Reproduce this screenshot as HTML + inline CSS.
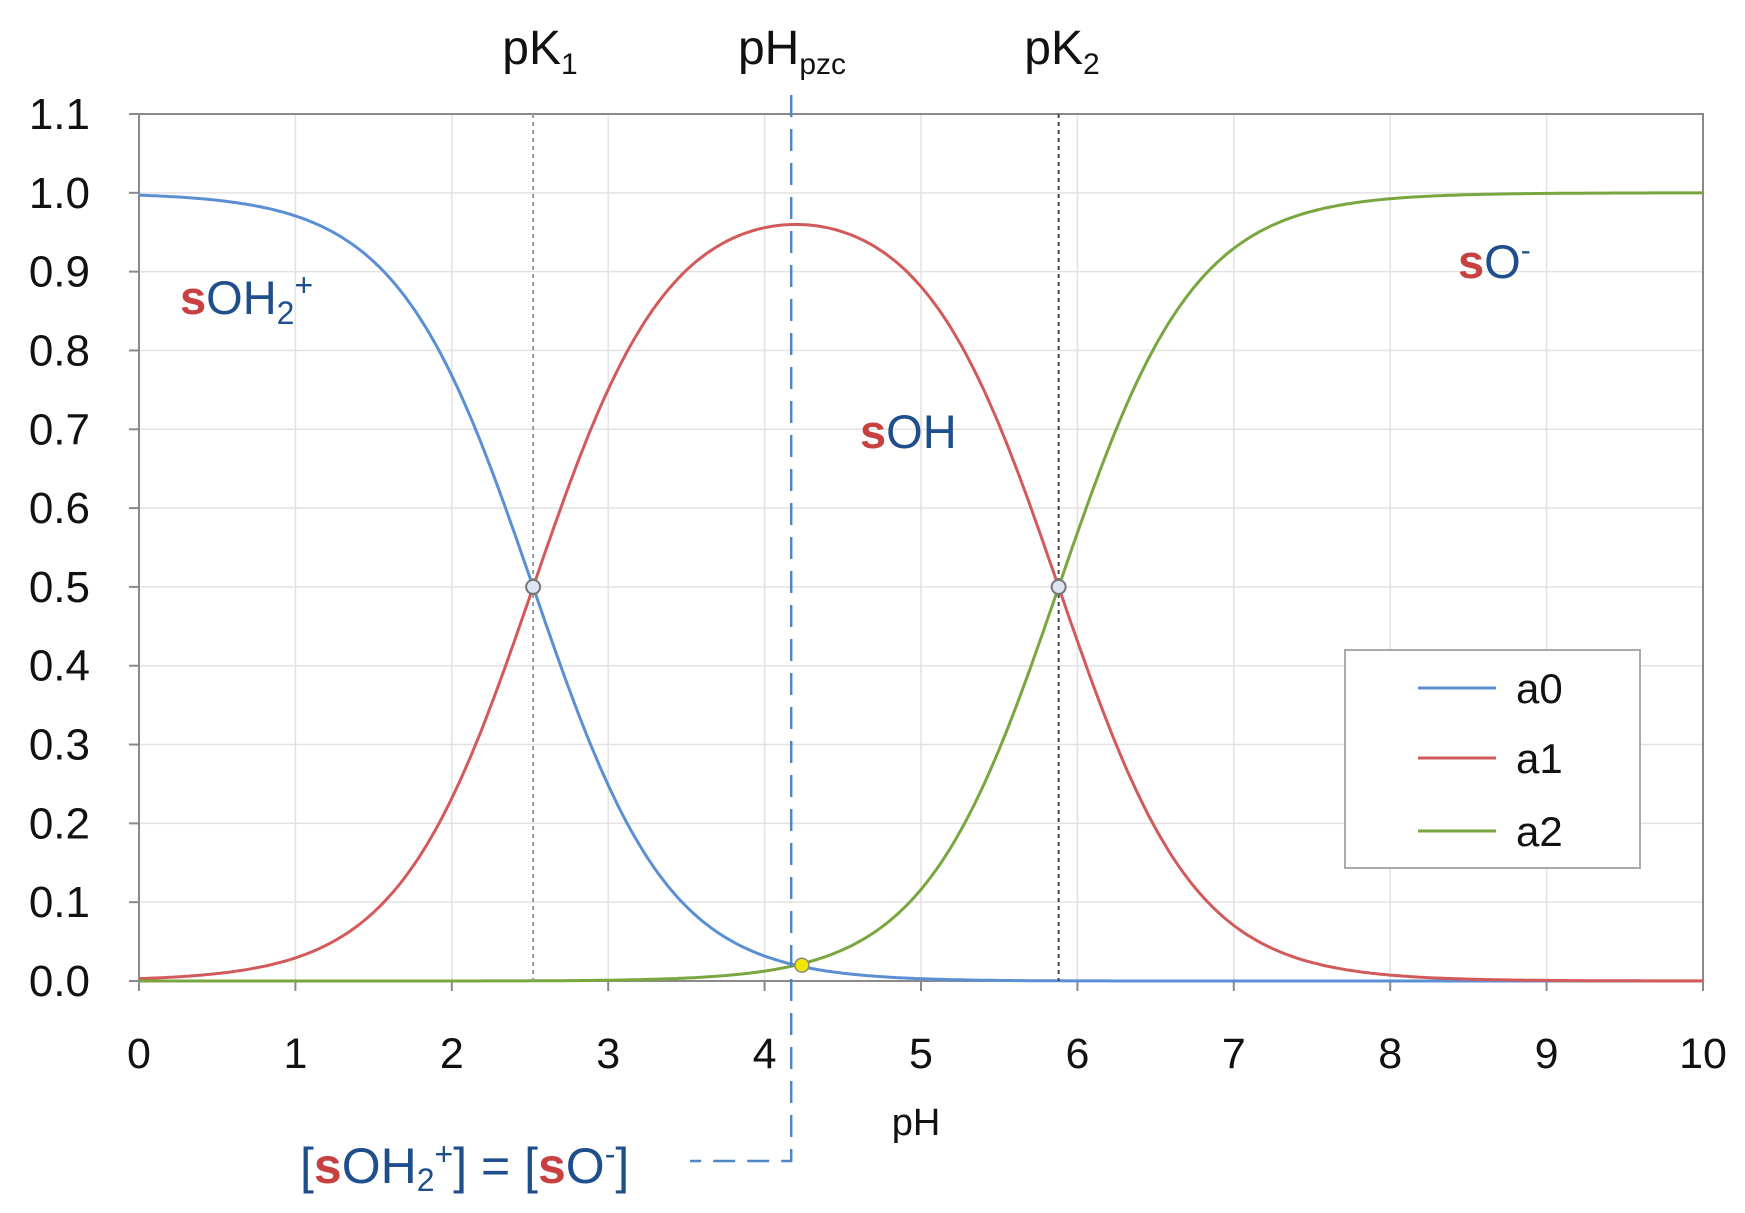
<!DOCTYPE html>
<html><head><meta charset="utf-8"><style>
html,body{margin:0;padding:0;background:#fff;}
svg{display:block;font-family:"Liberation Sans",sans-serif;}
</style></head><body>
<svg id="c" width="1745" height="1213" viewBox="0 0 1745 1213" xmlns="http://www.w3.org/2000/svg">
<g id="grid" stroke="#e2e2e2" stroke-width="1.5"></g>
<g id="axes"></g>
<g id="curves" fill="none" stroke-width="3"></g>
<g id="ann"></g>
</svg>
<script>
const L=139,R=1703,T=114,B=981;
const X=v=>L+(R-L)*v/10, Y=v=>B-(B-T)*v/1.1;
const ns="http://www.w3.org/2000/svg";
function el(p,t,a,txt){const e=document.createElementNS(ns,t);for(const k in a)e.setAttribute(k,a[k]);if(txt!==undefined)e.textContent=txt;document.getElementById(p).appendChild(e);return e;}
for(let i=1;i<=10;i++){el("grid","line",{x1:X(i),x2:X(i),y1:T,y2:B});}
for(let j=1;j<=11;j++){el("grid","line",{x1:L,x2:R,y1:Y(j/10),y2:Y(j/10)});}
el("axes","rect",{x:L,y:T,width:R-L,height:B-T,fill:"none",stroke:"#8a8a8a","stroke-width":2});
for(let i=0;i<=10;i++){el("axes","line",{x1:X(i),x2:X(i),y1:B,y2:B+10,stroke:"#8a8a8a","stroke-width":2});
 el("axes","text",{x:X(i),y:1068,"text-anchor":"middle","font-size":43,fill:"#111"},String(i));}
for(let j=0;j<=11;j++){const v=j/10;el("axes","line",{x1:L-10,x2:L,y1:Y(v),y2:Y(v),stroke:"#8a8a8a","stroke-width":2});
 el("axes","text",{x:90,y:Y(v)+15,"text-anchor":"end","font-size":44,fill:"#111"},v.toFixed(1));}
el("axes","text",{x:916,y:1135,"text-anchor":"middle","font-size":38,fill:"#111"},"pH");
const p1=2.52,p2=5.88,pz=4.17;
function fr(pH){const h=Math.pow(10,-pH),k1=Math.pow(10,-p1),k2=Math.pow(10,-p2);const d=h*h+h*k1+k1*k2;return [h*h/d,h*k1/d,k1*k2/d];}
el("ann","line",{x1:X(p1),x2:X(p1),y1:T,y2:B,stroke:"#999","stroke-width":2,"stroke-dasharray":"4,4"});
el("ann","line",{x1:X(p2),x2:X(p2),y1:T,y2:B,stroke:"#444","stroke-width":2,"stroke-dasharray":"4,4"});
const cols=["#5b8fd3","#d35a5a","#7aa640"];
for(let s=0;s<3;s++){let d="";for(let i=0;i<=500;i++){const pH=i/50;const v=fr(pH)[s];d+=(i?"L":"M")+X(pH).toFixed(1)+","+Y(v).toFixed(1);}
 el("curves","path",{d:d,stroke:cols[s]});}
el("ann","path",{d:`M${X(pz)},95 L${X(pz)},1161 L690,1161`,fill:"none",stroke:"#4f86c6","stroke-width":2.5,"stroke-dasharray":"22,12"});
el("ann","circle",{cx:X(p1),cy:Y(0.5),r:7,fill:"#dde6f2",stroke:"#777","stroke-width":2});
el("ann","circle",{cx:X(p2),cy:Y(0.5),r:7,fill:"#dde6f2",stroke:"#777","stroke-width":2});
el("ann","circle",{cx:X(4.2)+6,cy:Y(fr(4.2)[0]),r:7,fill:"#f2e600",stroke:"#888","stroke-width":1.5});
el("ann","rect",{x:1345,y:650,width:295,height:218,fill:"#fff",stroke:"#aaa","stroke-width":2});
const ly=[688,758,831],ln=["a0","a1","a2"];
for(let i=0;i<3;i++){el("ann","line",{x1:1418,x2:1496,y1:ly[i],y2:ly[i],stroke:cols[i],"stroke-width":3});
 el("ann","text",{x:1516,y:ly[i]+15,"font-size":42,fill:"#111"},ln[i]);}
</script>
<svg style="position:absolute;left:0;top:0" width="1745" height="1213" xmlns="http://www.w3.org/2000/svg" font-family="Liberation Sans, sans-serif">
<text x="540" y="64" text-anchor="middle" font-size="48" fill="#111">pK<tspan font-size="30" dy="10">1</tspan></text>
<text x="792" y="64" text-anchor="middle" font-size="48" fill="#111">pH<tspan font-size="30" dy="10">pzc</tspan></text>
<text x="1062" y="64" text-anchor="middle" font-size="48" fill="#111">pK<tspan font-size="30" dy="10">2</tspan></text>
<text x="180" y="314" font-size="47" fill="#1f4e8c"><tspan fill="#c94040" font-weight="bold">s</tspan>OH<tspan font-size="32" dy="10">2</tspan><tspan font-size="32" dy="-28">+</tspan></text>
<text x="860" y="448" font-size="47" fill="#1f4e8c"><tspan fill="#c94040" font-weight="bold">s</tspan>OH</text>
<text x="1458" y="278" font-size="47" fill="#1f4e8c"><tspan fill="#c94040" font-weight="bold">s</tspan>O<tspan font-size="30" dy="-18">-</tspan></text>
<text x="300" y="1183" font-size="50" fill="#1f4e8c">[<tspan fill="#c94040" font-weight="bold">s</tspan>OH<tspan font-size="32" dy="8">2</tspan><tspan font-size="32" dy="-26">+</tspan><tspan dy="18">] = [</tspan><tspan fill="#c94040" font-weight="bold">s</tspan>O<tspan font-size="32" dy="-18">-</tspan><tspan dy="18">]</tspan></text>
</svg>
</body></html>
